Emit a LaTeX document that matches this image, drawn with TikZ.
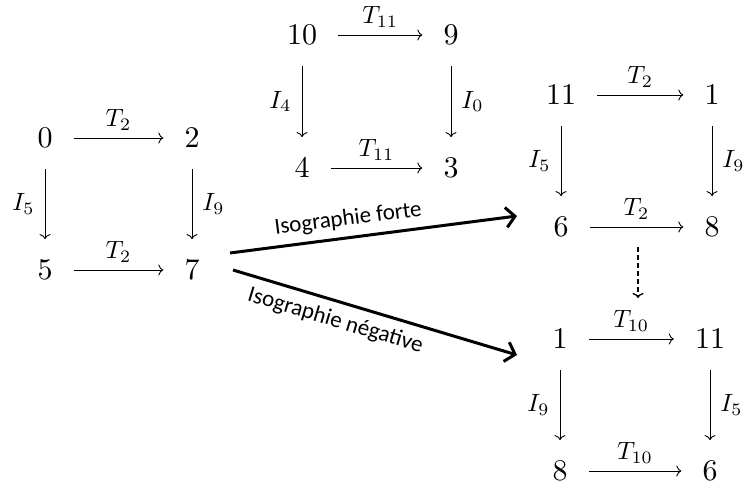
\documentclass[tikz,border=0pt]{standalone}
\usepackage{graphicx}
\usepackage{fontspec}
\newfontfamily\carlito{Carlito}
\usetikzlibrary{arrows.meta}
\newcommand\bnum[1]{\scalebox{3}{$#1$}}
\newcommand\blab[1]{\scalebox{2.5}{$#1$}}
\begin{document}
\begin{tikzpicture}[x=1pt,y=-1pt,
  num/.style={inner sep=0pt},
  lab/.style={inner sep=0pt},
  map/.style={-{To[length=5pt,width=11pt]}, line width=0.9pt, shorten <=21pt, shorten >=21pt},
  big/.style={-{Straight Barb[length=9pt,width=20pt]}, line width=3pt},
  dashmap/.style={-{To[length=5pt,width=11pt]}, line width=1.3pt, dash pattern=on 5pt off 3pt},
  iso/.style={font=\carlito\fontsize{23}{27}\selectfont, inner sep=0pt}]
\useasboundingbox (0,0) rectangle (743,489);
% left square
\node[num] (a0) at (45,138) {\bnum{0}};
\node[num] (a2) at (192,138) {\bnum{2}};
\node[num] (a5) at (45,270) {\bnum{5}};
\node[num] (a7) at (192,270) {\bnum{7}};
\draw[map] (a0) -- node[lab,above=7pt]{\blab{T_2}} (a2);
\draw[map] (a5) -- node[lab,above=7pt]{\blab{T_2}} (a7);
\draw[map] (a0) -- node[lab,left=10pt]{\blab{I_5}} (a5);
\draw[map] (a2) -- node[lab,right=10pt]{\blab{I_9}} (a7);
% top square
\node[num] (b10) at (302,35) {\bnum{10}};
\node[num] (b9) at (451,35) {\bnum{9}};
\node[num] (b4) at (302,168) {\bnum{4}};
\node[num] (b3) at (451,168) {\bnum{3}};
\draw[map] (b10) -- node[lab,above=7pt]{\blab{T_{11}}} (b9);
\draw[map] (b4) -- node[lab,above=7pt]{\blab{T_{11}}} (b3);
\draw[map] (b10) -- node[lab,left=10pt]{\blab{I_4}} (b4);
\draw[map] (b9) -- node[lab,right=10pt]{\blab{I_0}} (b3);
% upper right square
\node[num] (c11) at (561,95) {\bnum{11}};
\node[num] (c1) at (712,95) {\bnum{1}};
\node[num] (c6) at (561,227) {\bnum{6}};
\node[num] (c8) at (712,227) {\bnum{8}};
\draw[map] (c11) -- node[lab,above=7pt]{\blab{T_2}} (c1);
\draw[map] (c6) -- node[lab,above=7pt]{\blab{T_2}} (c8);
\draw[map] (c11) -- node[lab,left=10pt]{\blab{I_5}} (c6);
\draw[map] (c1) -- node[lab,right=10pt]{\blab{I_9}} (c8);
% lower right square
\node[num] (d1) at (560,339) {\bnum{1}};
\node[num] (d11) at (710,339) {\bnum{11}};
\node[num] (d8) at (560,471) {\bnum{8}};
\node[num] (d6) at (710,471) {\bnum{6}};
\draw[map] (d1) -- node[lab,above=7pt]{\blab{T_{10}}} (d11);
\draw[map] (d8) -- node[lab,above=7pt]{\blab{T_{10}}} (d6);
\draw[map] (d1) -- node[lab,left=10pt]{\blab{I_9}} (d8);
\draw[map] (d11) -- node[lab,right=10pt]{\blab{I_5}} (d6);
% dashed arrow
\coordinate (ds) at (638,247);
\coordinate (de) at (638,298);
\draw[dashmap] (ds) -- (de);
% big arrows
\coordinate (f1) at (230,253);
\coordinate (f2) at (517,216);
\coordinate (n1) at (233,270);
\coordinate (n2) at (517,355);
\draw[big] (f1) -- node[iso,pos=0.42,sloped,above=7pt]{Isographie forte} (f2);
\draw[big] (n1) -- node[iso,pos=0.38,sloped,below=8pt]{Isographie négative} (n2);
\end{tikzpicture}
\end{document}
